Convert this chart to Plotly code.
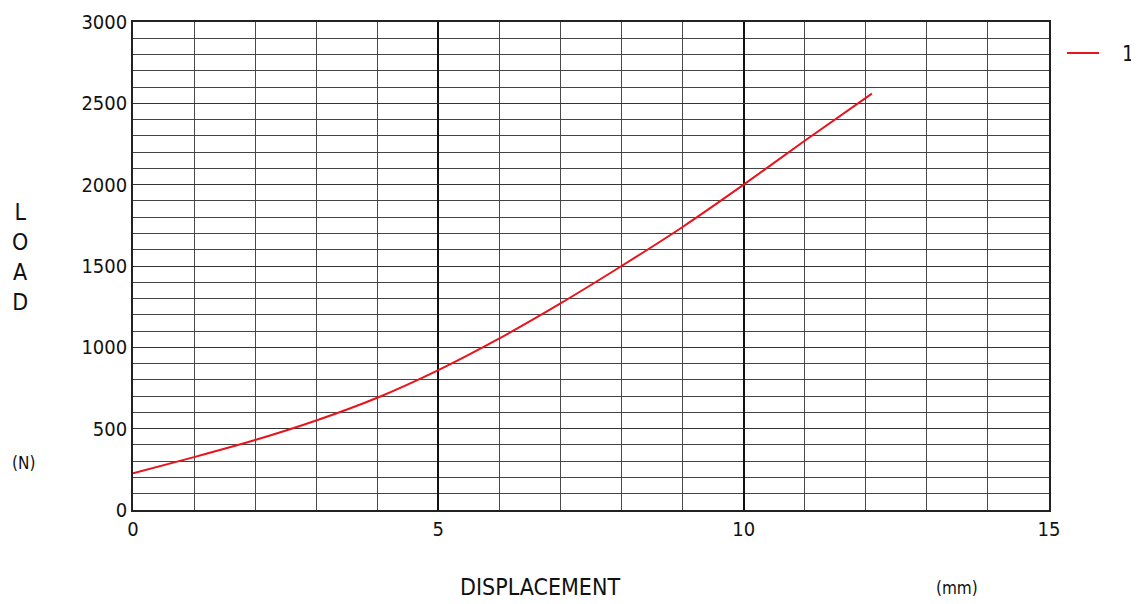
import plotly.graph_objects as go

displacement_mm = [0, 1, 2, 3, 4, 5, 6, 7, 8, 9, 10, 11, 12.1]
load_n = [225, 325, 430, 550, 690, 860, 1055, 1270, 1500, 1740, 2000, 2270, 2560]
series_name = "1"
x_ticks = [0, 5, 10, 15]
y_ticks = [0, 500, 1000, 1500, 2000, 2500, 3000]

FONT = "Liberation Sans Narrow, DejaVu Sans Condensed, Arial Narrow, sans-serif"
RED = "#e8141c"

fig = go.Figure()
fig.add_trace(go.Scatter(
    x=displacement_mm, y=load_n, mode="lines", name=series_name,
    line=dict(color=RED, width=2, shape="spline", smoothing=0.6),
    showlegend=False,
))

W, H = 1131, 596
L, T, PW, PH = 125, 14, 916, 488
fig.update_layout(
    width=W, height=H,
    margin=dict(l=L, r=W - L - PW, t=T, b=H - T - PH, autoexpand=False),
    paper_bgcolor="white", plot_bgcolor="white",
    font=dict(family=FONT, size=20, color="#111"),
    showlegend=False,
)

fig.update_xaxes(
    range=[0, 15], tickvals=x_ticks, ticktext=[str(v) for v in x_ticks],
    showgrid=True, gridcolor="#111", gridwidth=1.6,
    minor=dict(dtick=1, showgrid=True, gridcolor="#4a4a4a", gridwidth=1.3),
    showline=True, linecolor="#222", linewidth=1.6, mirror=True,
    zeroline=False, ticks="", tickfont=dict(size=20), automargin=False,
)
fig.update_yaxes(
    range=[0, 3000], tickvals=y_ticks, ticktext=[str(v) for v in y_ticks],
    showgrid=True, gridcolor="#333", gridwidth=1.3,
    minor=dict(dtick=100, showgrid=True, gridcolor="#444", gridwidth=1.2),
    showline=True, linecolor="#222", linewidth=1.6, mirror=True,
    zeroline=False, ticks="", tickfont=dict(size=20), automargin=False,
)

def px(xp, yp):
    # reference-window pixel -> paper coords (page has 8px body offset)
    return (xp - 8 - L) / PW, (T + PH - (yp - 8)) / PH

# legend (sample line + label)
x0, y0 = px(1067, 53)
x1, _ = px(1099, 53)
fig.add_shape(type="line", xref="paper", yref="paper", x0=x0, x1=x1, y0=y0, y1=y0,
              line=dict(color=RED, width=2))
ax, ay = px(1128, 54)
fig.add_annotation(text=series_name, xref="paper", yref="paper", x=ax, y=ay,
                   showarrow=False, font=dict(size=21, family=FONT),
                   xanchor="center", yanchor="middle")

ax, ay = px(540, 587)
fig.add_annotation(text="DISPLACEMENT", xref="paper", yref="paper", x=ax, y=ay,
                   showarrow=False, font=dict(size=23, family=FONT),
                   xanchor="center", yanchor="middle")
ax, ay = px(957, 588)
fig.add_annotation(text="(mm)", xref="paper", yref="paper", x=ax, y=ay,
                   showarrow=False, font=dict(size=17, family=FONT),
                   xanchor="center", yanchor="middle")
ax, ay = px(20, 257)
fig.add_annotation(text="L<br>O<br>A<br>D", xref="paper", yref="paper", x=ax, y=ay,
                   showarrow=False, font=dict(size=23, family=FONT),
                   xanchor="center", yanchor="middle")
ax, ay = px(23, 463)
fig.add_annotation(text="(N)", xref="paper", yref="paper", x=ax, y=ay,
                   showarrow=False, font=dict(size=17, family=FONT),
                   xanchor="center", yanchor="middle")

fig.write_html("out.html")
